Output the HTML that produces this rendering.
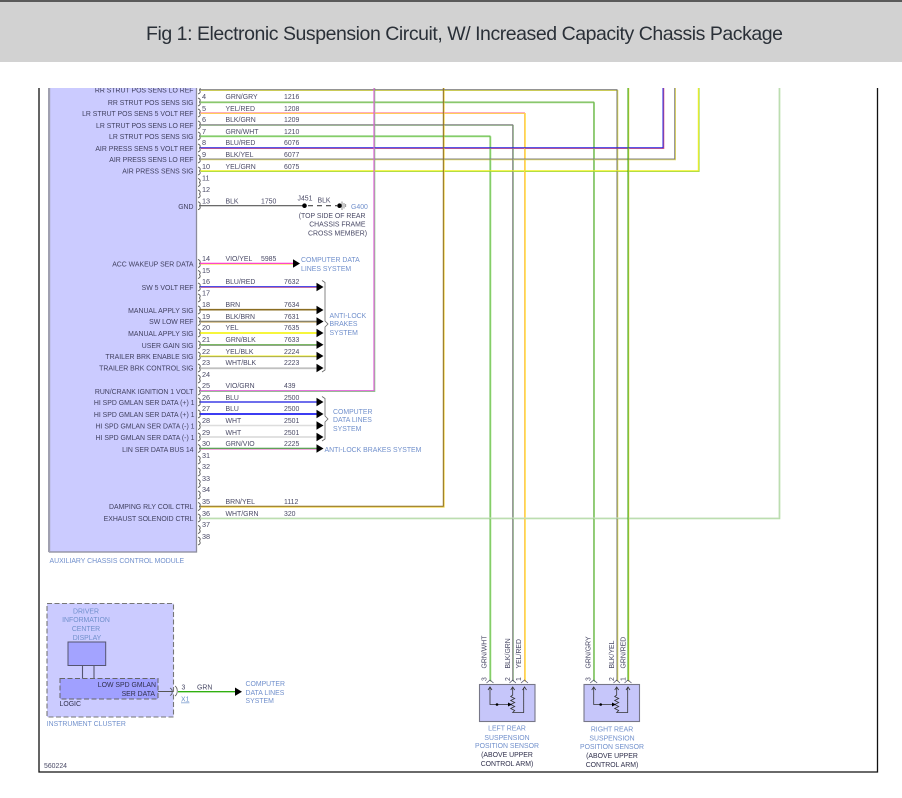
<!DOCTYPE html>
<html><head><meta charset="utf-8"><style>
html,body{margin:0;padding:0;background:#fff}
svg{display:block}
text{font-family:"Liberation Sans",sans-serif;font-size:6.9px;fill:#4a4a66}
.d{filter:blur(.22px)}
.l text{text-anchor:end;fill:#414160}
.n text{font-size:7.3px}
.b text,text.b{fill:#7190cc}
.w{fill:none;stroke-width:1}
.s{fill:none;stroke-width:1}
</style></head><body>
<svg width="902" height="798" viewBox="0 0 902 798" xmlns="http://www.w3.org/2000/svg">
<defs>
<path id="p" d="M-1 -4c2.500 .8 2.700 2.500 1.500 4c1.200 1.500 1 3.200-1.500 4" fill="none" stroke="#444" stroke-width=".8"/>
<path id="a" d="M-7 -4.200L0 0L-7 4.200z" fill="#000"/>
</defs>
<rect width="902" height="798" fill="#fff"/>
<g class="d">
<path d="M39 88V772H877.500V88" fill="none" stroke="#111" stroke-width="1.300"/>
<rect x="49.500" y="80" width="147" height="472" fill="#cbcbff" stroke="#8c8c9c" stroke-width="1.300"/>
<path d="M49 80V552" stroke="#a0a0b0" stroke-width="2"/>
<g class="s" transform="translate(.8 .8)">
<path stroke="#e8e850" d="M200 89.700H617V681"/>
<path stroke="#9ad880" d="M200 102H593.700V681"/>
<path stroke="#ffe040" d="M200 112.700H524.500V681"/>
<path stroke="#a8c8a0" d="M200 124.700H512.700V681"/>
<path stroke="#a0e080" d="M200 136H490V681"/>
<path stroke="#e06080" d="M200 147.700H663V80"/>
<path stroke="#e8e060" d="M200 159H674.700V80"/>
<path stroke="#a0d850" d="M200 170.700H698.300V80"/>
<path stroke="#f0e050" d="M200 263.300H293"/>
<path stroke="#ff9090" d="M200 286.700H317"/>
<path stroke="#c8a860" d="M200 321.300H317"/>
<path stroke="#505050" stroke-width=".6" d="M200 344.700H317"/>
<path stroke="#777" stroke-width=".7" d="M200 356H317"/>
<path stroke="#aaa" stroke-width=".7" d="M200 368H317"/>
<path stroke="#80d880" d="M200 390.700H374V80"/>
<path stroke="#e870c8" d="M200 448.300H317"/>
<path stroke="#f0d040" d="M200 506.300H443.300V80"/>
<path stroke="#b0dca0" d="M200 518H779V80"/>
<path stroke="#e8e050" d="M628 80V681"/>
</g>
<g class="w">
<path stroke="#707070" d="M200 89.700H617V681"/>
<path stroke="#78b858" d="M200 102H593.700V681"/>
<path stroke="#ff90a8" d="M200 112.700H524.500V113"/>
<path stroke="#ffc860" d="M524.500 113V681"/>
<path stroke="#808080" d="M200 124.700H512.700V681"/>
<path stroke="#68bc50" d="M200 136H490V681"/>
<path stroke="#2020e0" d="M200 147.700H663V80"/>
<path stroke="#808080" d="M200 159H674.700V80"/>
<path stroke="#f0f020" d="M200 170.700H698.300V80"/>
<path stroke="#555" stroke-width="1.200" d="M200 205.700H303"/>
<path stroke="#ff30d0" stroke-width="1.200" d="M200 263.300H293"/>
<path stroke="#1010e0" d="M200 286.700H317"/>
<path stroke="#8a6c20" stroke-width="1.700" d="M200 309.700H317"/>
<path stroke="#707060" d="M200 321.300H317"/>
<path stroke="#f4f420" stroke-width="1.700" d="M200 333H317"/>
<path stroke="#50a030" d="M200 344.700H317"/>
<path stroke="#f0f020" d="M200 356H317"/>
<path stroke="#c8c8c8" stroke-width="1.500" d="M200 368H317"/>
<path stroke="#e060d8" stroke-width="1.200" d="M200 390.700H374V80"/>
<path stroke="#1818e0" stroke-width="1.200" d="M200 402H317"/>
<path stroke="#2020f0" stroke-width="1.800" d="M200 414H317"/>
<path stroke="#ddd" stroke-width="1.400" d="M200 425.500H317"/>
<path stroke="#ddd" stroke-width="1.800" d="M200 437H317"/>
<path stroke="#30a030" d="M200 448.300H317"/>
<path stroke="#8a6c20" d="M200 506.300H443.300V80"/>
<path stroke="#c8e0c0" d="M200 518H779V80"/>
<path stroke="#30a010" d="M628 80V681"/>
</g>
<use href="#a" x="300" y="263.500"/>
<use href="#a" x="323.500" y="287"/><use href="#a" x="323.500" y="310"/><use href="#a" x="323.500" y="321.500"/><use href="#a" x="323.500" y="333"/><use href="#a" x="323.500" y="344.700"/><use href="#a" x="323.500" y="356"/><use href="#a" x="323.500" y="368"/>
<use href="#a" x="323.500" y="402"/><use href="#a" x="323.500" y="414"/><use href="#a" x="323.500" y="425.500"/><use href="#a" x="323.500" y="437"/><use href="#a" x="323.500" y="448.500"/>
<path d="M322 280.500L325 282.500V321L328 324L325 327V370L322 372" fill="none" stroke="#666" stroke-width=".8"/>
<path d="M322 396.500L325 398.500V416L328 419L325 422V439L322 441" fill="none" stroke="#666" stroke-width=".8"/>
<g>
<use href="#p" x="199" y="90"/><use href="#p" x="199" y="102"/><use href="#p" x="199" y="113"/><use href="#p" x="199" y="125"/><use href="#p" x="199" y="136"/><use href="#p" x="199" y="148"/><use href="#p" x="199" y="159"/><use href="#p" x="199" y="171"/><use href="#p" x="199" y="182.500"/><use href="#p" x="199" y="194"/><use href="#p" x="199" y="205.700"/>
<use href="#p" x="199" y="263.500"/><use href="#p" x="199" y="274.500"/><use href="#p" x="199" y="287"/><use href="#p" x="199" y="298"/><use href="#p" x="199" y="310"/><use href="#p" x="199" y="321.500"/><use href="#p" x="199" y="333"/><use href="#p" x="199" y="345"/><use href="#p" x="199" y="356"/><use href="#p" x="199" y="368"/><use href="#p" x="199" y="379"/><use href="#p" x="199" y="391"/>
<use href="#p" x="199" y="402"/><use href="#p" x="199" y="414"/><use href="#p" x="199" y="425.500"/><use href="#p" x="199" y="437"/><use href="#p" x="199" y="448.500"/><use href="#p" x="199" y="460"/><use href="#p" x="199" y="472"/><use href="#p" x="199" y="483.500"/><use href="#p" x="199" y="495"/><use href="#p" x="199" y="506.500"/><use href="#p" x="199" y="518"/><use href="#p" x="199" y="529.500"/><use href="#p" x="199" y="541"/>
</g>
<g class="l">
<text x="193.500" y="92.500">RR STRUT POS SENS LO REF</text>
<text x="193.500" y="105">RR STRUT POS SENS SIG</text>
<text x="193.500" y="116">LR STRUT POS SENS 5 VOLT REF</text>
<text x="193.500" y="128">LR STRUT POS SENS LO REF</text>
<text x="193.500" y="139">LR STRUT POS SENS SIG</text>
<text x="193.500" y="151">AIR PRESS SENS 5 VOLT REF</text>
<text x="193.500" y="162">AIR PRESS SENS LO REF</text>
<text x="193.500" y="173.500">AIR PRESS SENS SIG</text>
<text x="193.500" y="209">GND</text>
<text x="193.500" y="266.500">ACC WAKEUP SER DATA</text>
<text x="193.500" y="290">SW 5 VOLT REF</text>
<text x="193.500" y="313">MANUAL APPLY SIG</text>
<text x="193.500" y="324">SW LOW REF</text>
<text x="193.500" y="336">MANUAL APPLY SIG</text>
<text x="193.500" y="348">USER GAIN SIG</text>
<text x="193.500" y="359">TRAILER BRK ENABLE SIG</text>
<text x="193.500" y="370.500">TRAILER BRK CONTROL SIG</text>
<text x="193.500" y="394">RUN/CRANK IGNITION 1 VOLT</text>
<text x="194.500" y="405">HI SPD GMLAN SER DATA (+) 1</text>
<text x="194.500" y="417">HI SPD GMLAN SER DATA (+) 1</text>
<text x="194.500" y="428.500">HI SPD GMLAN SER DATA (-) 1</text>
<text x="194.500" y="440">HI SPD GMLAN SER DATA (-) 1</text>
<text x="193.500" y="452">LIN SER DATA BUS 14</text>
<text x="193.500" y="509">DAMPING RLY COIL CTRL</text>
<text x="193.500" y="521">EXHAUST SOLENOID CTRL</text>
</g>
<g class="n">
<text x="202" y="87">3</text>
<text x="202" y="99">4</text><text x="202" y="111">5</text><text x="202" y="122">6</text><text x="202" y="134">7</text><text x="202" y="145">8</text><text x="202" y="157">9</text><text x="202" y="169">10</text><text x="202" y="180.500">11</text><text x="202" y="192">12</text><text x="202" y="203.500">13</text>
<text x="202" y="261">14</text><text x="202" y="273">15</text><text x="202" y="284">16</text><text x="202" y="295.500">17</text><text x="202" y="307">18</text><text x="202" y="319">19</text><text x="202" y="330">20</text><text x="202" y="342">21</text><text x="202" y="354">22</text><text x="202" y="365">23</text><text x="202" y="377">24</text><text x="202" y="388">25</text>
<text x="202" y="400">26</text><text x="202" y="411">27</text><text x="202" y="423">28</text><text x="202" y="435">29</text><text x="202" y="446">30</text><text x="202" y="458">31</text><text x="202" y="469">32</text><text x="202" y="481">33</text><text x="202" y="492">34</text><text x="202" y="504">35</text><text x="202" y="516">36</text><text x="202" y="527">37</text><text x="202" y="539">38</text>
</g>
<g>
<text x="225.500" y="87">BLK/YEL</text><text x="284" y="87">1218</text>
<text x="225.500" y="99">GRN/GRY</text><text x="284" y="99">1216</text>
<text x="225.500" y="111">YEL/RED</text><text x="284" y="111">1208</text>
<text x="225.500" y="122">BLK/GRN</text><text x="284" y="122">1209</text>
<text x="225.500" y="134">GRN/WHT</text><text x="284" y="134">1210</text>
<text x="225.500" y="145">BLU/RED</text><text x="284" y="145">6076</text>
<text x="225.500" y="157">BLK/YEL</text><text x="284" y="157">6077</text>
<text x="225.500" y="169">YEL/GRN</text><text x="284" y="169">6075</text>
<text x="225.500" y="203.500">BLK</text><text x="261" y="203.500">1750</text>
<text x="225.500" y="261">VIO/YEL</text><text x="261" y="261">5985</text>
<text x="225.500" y="284">BLU/RED</text><text x="284" y="284">7632</text>
<text x="225.500" y="307">BRN</text><text x="284" y="307">7634</text>
<text x="225.500" y="319">BLK/BRN</text><text x="284" y="319">7631</text>
<text x="225.500" y="330">YEL</text><text x="284" y="330">7635</text>
<text x="225.500" y="342">GRN/BLK</text><text x="284" y="342">7633</text>
<text x="225.500" y="354">YEL/BLK</text><text x="284" y="354">2224</text>
<text x="225.500" y="365">WHT/BLK</text><text x="284" y="365">2223</text>
<text x="225.500" y="388">VIO/GRN</text><text x="284" y="388">439</text>
<text x="225.500" y="400">BLU</text><text x="284" y="400">2500</text>
<text x="225.500" y="411">BLU</text><text x="284" y="411">2500</text>
<text x="225.500" y="423">WHT</text><text x="284" y="423">2501</text>
<text x="225.500" y="435">WHT</text><text x="284" y="435">2501</text>
<text x="225.500" y="446">GRN/VIO</text><text x="284" y="446">2225</text>
<text x="225.500" y="504">BRN/YEL</text><text x="284" y="504">1112</text>
<text x="225.500" y="516">WHT/GRN</text><text x="284" y="516">320</text>
</g>
<circle cx="304.500" cy="205.700" r="2.300" fill="#000"/>
<path d="M308 205.700H337" stroke="#444" stroke-width="1.200" stroke-dasharray="5 4" fill="none"/>
<circle cx="339.500" cy="205.700" r="2.300" fill="#000"/>
<path d="M342 201.500V210M344 203V208.500M345.700 204V207" stroke="#777" stroke-width=".8" fill="none"/>
<text x="297.500" y="200.500">J451</text><text x="317.500" y="202.500">BLK</text>
<text class="b" x="351" y="209">G400</text>
<text x="365.500" y="218" text-anchor="end">(TOP SIDE OF REAR</text><text x="365.500" y="226.500" text-anchor="end">CHASSIS FRAME</text><text x="367" y="235.500" text-anchor="end">CROSS MEMBER)</text>
<g class="b">
<text x="301" y="262">COMPUTER DATA</text><text x="301" y="271">LINES SYSTEM</text>
<text x="329.500" y="318">ANTI-LOCK</text><text x="329.500" y="326">BRAKES</text><text x="329.500" y="335">SYSTEM</text>
<text x="333" y="414">COMPUTER</text><text x="333" y="422">DATA LINES</text><text x="333" y="431">SYSTEM</text>
<text x="324.500" y="452">ANTI-LOCK BRAKES SYSTEM</text>
<text x="49.500" y="563">AUXILIARY CHASSIS CONTROL MODULE</text>
</g>
<rect x="47" y="603.500" width="126.500" height="113.500" fill="#cbcbff" stroke="#777" stroke-width="1.100" stroke-dasharray="5 2.500"/>
<path d="M82.500 665V679M94 665V679" stroke="#555570" stroke-width="1.100"/>
<rect x="68" y="642" width="37.700" height="23.500" fill="#a3a3ff" stroke="#555570" stroke-width="1"/>
<rect x="60" y="678.500" width="98" height="20.500" fill="#a0a0ff" stroke="#666" stroke-width="1" stroke-dasharray="5 2.500"/>
<g class="b" text-anchor="middle">
<text x="86" y="613.500">DRIVER</text><text x="86" y="622">INFORMATION</text><text x="86" y="631">CENTER</text><text x="87" y="640">DISPLAY</text>
</g>
<text x="156" y="687" text-anchor="end" style="fill:#30304c">LOW SPD GMLAN</text>
<text x="155" y="696" text-anchor="end" style="fill:#30304c">SER DATA</text>
<text x="59.500" y="706" style="fill:#30304c">LOGIC</text>
<text class="b" x="46.700" y="726">INSTRUMENT CLUSTER</text>
<path d="M158 691.500H173" stroke="#555" stroke-width="1"/>
<path d="M170 688c2 1 2.500 2 2 3.500c.5 1.500 0 3-2 4M175 686c3 2 3 8 0 10" fill="none" stroke="#555" stroke-width=".8"/>
<path d="M178 691.700H237" stroke="#30b010" stroke-width="1.400"/>
<use href="#a" x="242" y="691.700"/>
<text x="181.500" y="689.500">3</text><text x="197" y="689.500">GRN</text>
<text x="181" y="701.500" style="fill:#6a8fc8;text-decoration:underline">X1</text>
<g class="b"><text x="245.500" y="686">COMPUTER</text><text x="245.500" y="695">DATA LINES</text><text x="245.500" y="703">SYSTEM</text></g>
<text x="44" y="768">560224</text>
<g fill="none" stroke="#55556f" stroke-width=".8">
<path d="M486.500 683l3.500-3l3.500 3M509.500 683l3.200-3l3.200 3M521 683l3.500-3l3.500 3"/>
</g>
<rect x="479.500" y="684.500" width="55.500" height="37" fill="#c6c6fa" stroke="#777788" stroke-width="1.100"/>
<g fill="none" stroke="#333" stroke-width=".8">
<path d="M490 688V704.500H509"/>
<path d="M512.700 688V695l-2 1.500l4 2l-4 2l4 2l-4 2l4 2l-4 2l4 2l-2 2h11V688"/>
<path d="M488 690l2-3l2 3M510.700 690l2-3l2 3M522.500 690l2-3l2 3"/>
</g>
<circle cx="497" cy="704.500" r="1.300" fill="#000"/>
<path d="M508 702.500L512 704.500L508 706.500z" fill="#000"/>
<g fill="none" stroke="#55556f" stroke-width=".8">
<path d="M590.200 683l3.500-3l3.500 3M613.500 683l3.200-3l3.200 3M624.500 683l3.500-3l3.500 3"/>
</g>
<rect x="584" y="684.500" width="55.500" height="37" fill="#c6c6fa" stroke="#777788" stroke-width="1.100"/>
<g fill="none" stroke="#333" stroke-width=".8">
<path d="M593.700 688V704.500H613"/>
<path d="M616.700 688V695l-2 1.500l4 2l-4 2l4 2l-4 2l4 2l-4 2l4 2l-2 2h11V688"/>
<path d="M591.700 690l2-3l2 3M614.700 690l2-3l2 3M626 690l2-3l2 3"/>
</g>
<circle cx="600.700" cy="704.500" r="1.300" fill="#000"/>
<path d="M612 702.500L616 704.500L612 706.500z" fill="#000"/>
<text transform="translate(486.500 668.500) rotate(-90)">GRN/WHT</text>
<text transform="translate(510 668.500) rotate(-90)">BLK/GRN</text>
<text transform="translate(521 668.500) rotate(-90)">YEL/RED</text>
<text transform="translate(590.500 668.500) rotate(-90)">GRN/GRY</text>
<text transform="translate(614 668.500) rotate(-90)">BLK/YEL</text>
<text transform="translate(625.500 668.500) rotate(-90)">GRN/RED</text>
<text transform="translate(486.500 681) rotate(-90)">3</text><text transform="translate(510 681) rotate(-90)">2</text><text transform="translate(521 681) rotate(-90)">1</text>
<text transform="translate(590.500 681) rotate(-90)">3</text><text transform="translate(614 681) rotate(-90)">2</text><text transform="translate(625.500 681) rotate(-90)">1</text>
<g class="b" text-anchor="middle">
<text x="507" y="730.500">LEFT REAR</text><text x="507" y="740">SUSPENSION</text><text x="507" y="748">POSITION SENSOR</text>
<text x="612" y="731.500">RIGHT REAR</text><text x="612" y="740.500">SUSPENSION</text><text x="612" y="749">POSITION SENSOR</text>
</g>
<g text-anchor="middle">
<text x="507" y="757" style="fill:#30304c">(ABOVE UPPER</text><text x="507" y="766" style="fill:#30304c">CONTROL ARM)</text>
<text x="612" y="758" style="fill:#30304c">(ABOVE UPPER</text><text x="612" y="767" style="fill:#30304c">CONTROL ARM)</text>
</g>
</g>
<rect x="0" y="62" width="902" height="26" fill="#fff"/>
<rect x="0" y="0" width="902" height="62" fill="#d2d2d2"/>
<rect x="0" y="0" width="902" height="2" fill="#5a5a5a"/>
<text x="146" y="40" textLength="637" lengthAdjust="spacing" style="font-size:19.500px;fill:#2a3038">Fig 1: Electronic Suspension Circuit, W/ Increased Capacity Chassis Package</text>
</svg>
</body></html>
